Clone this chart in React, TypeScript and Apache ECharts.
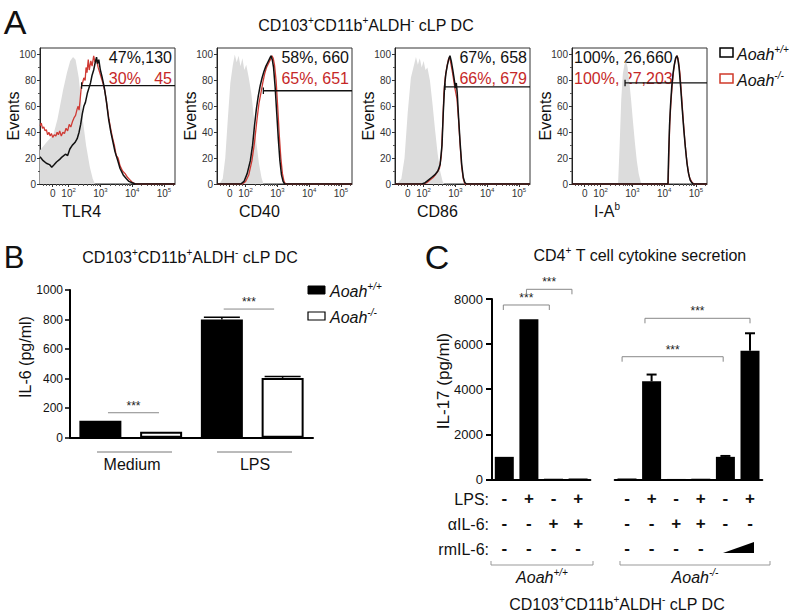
import React, { useEffect, useRef } from 'react';
import * as echarts from 'echarts';

const FONT = '"Liberation Sans", Arial, Helvetica, sans-serif';

// ---------- Panel A: flow histograms (x in display units: 1.5 = "0", 2 = 10^2 ... 5 = 10^5) ----------
const histNames = ['{m|TLR4}', '{m|CD40}', '{m|CD86}', '{m|I-A}{s|b}'];
const grayTLR4 = [[1.1, 26], [1.3, 32], [1.52, 38], [1.65, 50], [1.83, 73], [1.95, 86], [2.05, 95], [2.14, 98], [2.22, 96], [2.32, 82], [2.46, 47], [2.55, 30], [2.67, 13], [2.76, 4], [2.83, 0], [5.35, 0]];
const wtTLR4 = [[1.1, 21], [1.2, 18], [1.3, 16], [1.4, 15], [1.47, 13], [1.55, 15], [1.62, 17], [1.72, 19], [1.8, 21], [1.9, 23], [1.97, 22], [2.04, 27], [2.12, 30], [2.2, 32], [2.27, 35], [2.33, 40], [2.38, 46], [2.43, 54], [2.48, 60], [2.53, 63], [2.59, 70], [2.64, 74], [2.69, 78], [2.74, 84], [2.79, 88], [2.84, 94], [2.88, 98], [2.91, 93], [2.95, 96], [3.0, 88], [3.06, 82], [3.12, 75], [3.19, 64], [3.26, 50], [3.33, 40], [3.4, 32], [3.46, 25], [3.55, 18], [3.62, 12], [3.72, 7], [3.82, 4], [3.9, 2], [4.0, 1], [4.1, 0], [5.35, 0]];
const koTLR4 = [[1.1, 45], [1.14, 47], [1.18, 43], [1.22, 44], [1.26, 41], [1.3, 42], [1.34, 38], [1.38, 40], [1.42, 37], [1.46, 39], [1.5, 36], [1.55, 38], [1.6, 37], [1.64, 40], [1.68, 38], [1.72, 41], [1.77, 37], [1.82, 40], [1.87, 39], [1.92, 43], [1.97, 41], [2.02, 46], [2.07, 44], [2.12, 48], [2.17, 51], [2.22, 53], [2.27, 58], [2.3, 60], [2.33, 57], [2.36, 64], [2.4, 75], [2.44, 78], [2.48, 82], [2.52, 80], [2.55, 90], [2.58, 86], [2.62, 96], [2.65, 88], [2.7, 95], [2.74, 91], [2.79, 99], [2.83, 94], [2.88, 96], [2.93, 90], [2.98, 86], [3.03, 82], [3.08, 78], [3.14, 72], [3.2, 62], [3.27, 50], [3.33, 42], [3.38, 36], [3.44, 30], [3.5, 22], [3.56, 20], [3.62, 14], [3.7, 10], [3.78, 8], [3.86, 5], [3.94, 3], [4.02, 1], [4.12, 0], [5.35, 0]];

const grayCD40 = [[1.1, 0], [1.2, 1], [1.28, 4], [1.36, 20], [1.44, 50], [1.52, 78], [1.6, 92], [1.66, 100], [1.72, 94], [1.78, 99], [1.84, 91], [1.9, 97], [1.96, 88], [2.02, 92], [2.1, 82], [2.18, 70], [2.26, 52], [2.34, 32], [2.42, 16], [2.5, 5], [2.56, 0], [5.35, 0]];
const wtCD40 = [[1.1, 0], [1.85, 0], [1.95, 2], [2.05, 8], [2.15, 18], [2.22, 30], [2.28, 45], [2.34, 58], [2.4, 68], [2.46, 76], [2.52, 82], [2.58, 87], [2.64, 91], [2.7, 94], [2.76, 97], [2.8, 99], [2.84, 96], [2.88, 90], [2.93, 75], [2.98, 55], [3.03, 35], [3.08, 18], [3.13, 7], [3.18, 2], [3.23, 0], [5.35, 0]];
const koCD40 = [[1.1, 0], [1.9, 0], [2.0, 2], [2.1, 7], [2.2, 18], [2.28, 32], [2.36, 50], [2.42, 62], [2.48, 70], [2.54, 78], [2.6, 85], [2.66, 90], [2.72, 93], [2.78, 96], [2.83, 99], [2.87, 97], [2.91, 92], [2.96, 80], [3.01, 60], [3.06, 38], [3.11, 20], [3.16, 8], [3.21, 2], [3.26, 0], [5.35, 0]];

const grayCD86 = [[1.1, 0], [1.2, 1], [1.3, 4], [1.4, 20], [1.5, 55], [1.6, 82], [1.7, 92], [1.76, 98], [1.82, 92], [1.88, 97], [1.94, 90], [2.0, 95], [2.06, 88], [2.12, 90], [2.2, 80], [2.28, 62], [2.36, 42], [2.44, 24], [2.52, 10], [2.6, 2], [2.65, 0], [5.35, 0]];
const wtCD86 = [[1.1, 0], [1.95, 0], [2.05, 1], [2.15, 3], [2.25, 5], [2.35, 7], [2.45, 10], [2.52, 15], [2.58, 30], [2.62, 55], [2.66, 75], [2.7, 85], [2.75, 92], [2.8, 97], [2.83, 99], [2.87, 95], [2.92, 88], [2.97, 80], [3.0, 74], [3.03, 78], [3.06, 70], [3.1, 52], [3.15, 32], [3.2, 15], [3.25, 5], [3.3, 1], [3.35, 0], [5.35, 0]];
const koCD86 = [[1.1, 0], [2.0, 0], [2.1, 1], [2.2, 3], [2.3, 5], [2.4, 8], [2.5, 12], [2.56, 22], [2.6, 45], [2.64, 70], [2.68, 82], [2.73, 90], [2.78, 96], [2.82, 98], [2.86, 93], [2.91, 86], [2.96, 78], [3.0, 72], [3.05, 66], [3.1, 50], [3.15, 30], [3.2, 13], [3.25, 4], [3.3, 0], [5.35, 0]];

const grayIAb = [[1.1, 0], [2.55, 0], [2.6, 30], [2.65, 65], [2.7, 85], [2.75, 92], [2.8, 95], [2.85, 90], [2.9, 80], [2.96, 65], [3.02, 48], [3.08, 32], [3.14, 18], [3.2, 8], [3.26, 2], [3.3, 0], [5.35, 0]];
const wtIAb = [[1.1, 0], [4.12, 0], [4.14, 20], [4.17, 45], [4.2, 60], [4.24, 75], [4.28, 85], [4.32, 92], [4.36, 97], [4.4, 99], [4.43, 97], [4.47, 90], [4.52, 75], [4.57, 58], [4.62, 42], [4.67, 28], [4.72, 16], [4.77, 8], [4.82, 3], [4.87, 1], [4.92, 0], [5.35, 0]];
const koIAb = [[1.1, 0], [4.13, 0], [4.15, 25], [4.18, 48], [4.22, 65], [4.26, 78], [4.3, 88], [4.34, 94], [4.38, 98], [4.41, 99], [4.45, 95], [4.5, 85], [4.55, 68], [4.6, 50], [4.65, 34], [4.7, 21], [4.75, 11], [4.8, 5], [4.86, 2], [4.93, 0], [5.35, 0]];

const grayCurves = [grayTLR4, grayCD40, grayCD86, grayIAb];
const wtCurves = [wtTLR4, wtCD40, wtCD86, wtIAb];
const koCurves = [koTLR4, koCD40, koCD86, koIAb];
const gateStart = [2.41, 2.56, 2.67, 2.77];
const gateLevel = [76, 72, 75, 78];
const statWT = ['47%,130', '58%, 660', '67%, 658', '100%, 26,660'];
const statKO = ['30%   45', '65%, 651', '66%, 679', '100%, 27,203'];
const histXTicks = [1.5, 2, 3, 4, 5];
const histXLabels = ['{m|0}', '{m|10}{s|2}', '{m|10}{s|3}', '{m|10}{s|4}', '{m|10}{s|5}'];
const histXMinor = [1.2, 1.3, 1.4, 1.6, 1.7, 1.8, 1.9, 2.301, 2.477, 2.602, 2.699, 2.778, 2.845, 2.903, 2.954, 3.301, 3.477, 3.602, 3.699, 3.778, 3.845, 3.903, 3.954, 4.301, 4.477, 4.602, 4.699, 4.778, 4.845, 4.903, 4.954, 5.301];
const histYTicks = [0, 20, 40, 60, 80, 100];

// ---------- Panel B: IL-6 ----------
const bCategories = ['Medium WT', 'Medium KO', 'LPS WT', 'LPS KO'];
const bWT = [115, '-', 800, '-'];
const bKO = ['-', 40, '-', 405];
const bErr = [[2, 800, 815], [3, 405, 415]];
const bGroups = ['Medium', 'LPS'];
const bSig = [[0, 169, 0.125, 0.965, 0], [0, 871, 2.03, 2.86, 0]];

// ---------- Panel C: IL-17 ----------
const cLeftCats = ['1', '2', '3', '4'];
const cRightCats = ['1', '2', '3', '4', '5', '6'];
const cLeftVals = [1000, 7100, 30, 40];
const cRightVals = [40, 4350, 20, 30, 1000, 5700];
const cRightErr = [[1, 4350, 4650], [4, 1000, 1040], [5, 5700, 6480]];
const lpsLeft = ['-', '+', '-', '+'];
const il6Left = ['-', '-', '+', '+'];
const rmLeft = ['-', '-', '-', '-'];
const lpsRight = ['-', '+', '-', '+', '-', '+'];
const il6Right = ['-', '-', '+', '+', '-', '-'];
const rmRight = ['-', '-', '-', '-', '', ''];
const cSigLeft = [[0, 7734, -0.04, 1.83, 5], [0, 8430, 0.9, 2.75, 5]];
const cSigRight = [[0, 5441, -0.2, 3.91, 5], [0, 7144, 0.73, 5.0, 5]];

const supRich = (size: number, color: string, italic = false) => ({
  m: { fontSize: size, lineHeight: Math.round(size * 1.1), verticalAlign: 'bottom', color, fontFamily: FONT, fontStyle: italic ? 'italic' : 'normal' },
  s: { fontSize: Math.round(size * 0.62), lineHeight: Math.round(size * 0.62), verticalAlign: 'top', color, fontFamily: FONT, fontStyle: italic ? 'italic' : 'normal' },
});

const txt = (x: number, y: number, text: string, size: number, opts: any = {}) => ({
  type: 'text',
  x, y,
  rotation: opts.rotation || 0,
  silent: true,
  style: {
    text,
    fontSize: size,
    fontFamily: FONT,
    fontStyle: opts.italic ? 'italic' : 'normal',
    fontWeight: opts.bold ? 'bold' : 'normal',
    fill: opts.color || '#111',
    align: opts.align || 'center',
    verticalAlign: 'middle',
    textAlign: opts.align || 'center',
    textVerticalAlign: 'middle',
    rich: opts.rich,
  },
});

const sigRender = (color: string) => (params: any, api: any) => {
  const y = api.value(1);
  const f0 = api.value(2);
  const f1 = api.value(3);
  const drop = api.value(4);
  const base = api.coord([0, y]);
  const band = api.size([1, 0])[0];
  const x0 = base[0] + f0 * band;
  const x1 = base[0] + f1 * band;
  const yy = base[1];
  return {
    type: 'group',
    children: [
      { type: 'polyline', shape: { points: [[x0, yy + drop], [x0, yy], [x1, yy], [x1, yy + drop]] }, style: { stroke: color, lineWidth: 1, fill: 'none' } },
      { type: 'text', x: (x0 + x1) / 2, y: yy - 1, style: { text: '***', fontSize: 12, fontFamily: FONT, fill: '#222', align: 'center', verticalAlign: 'bottom', textAlign: 'center', textVerticalAlign: 'bottom' } },
    ],
  };
};

const errRender = (cap: number, w: number) => (params: any, api: any) => {
  const x = api.value(0);
  const p0 = api.coord([x, api.value(1)]);
  const p1 = api.coord([x, api.value(2)]);
  return {
    type: 'group',
    children: [
      { type: 'line', shape: { x1: p0[0], y1: p0[1], x2: p1[0], y2: p1[1] }, style: { stroke: '#000', lineWidth: w } },
      { type: 'line', shape: { x1: p1[0] - cap / 2, y1: p1[1], x2: p1[0] + cap / 2, y2: p1[1] }, style: { stroke: '#000', lineWidth: w } },
    ],
  };
};

const plainNum = (v: number) => String(v);

function buildOption() {
  const grids: any[] = [];
  const xAxes: any[] = [];
  const yAxes: any[] = [];
  const series: any[] = [];
  const graphic: any[] = [];
  const histLeft = [40, 217, 395, 572];

  histLeft.forEach((left, i) => {
    grids.push({ left, top: 48, width: 135, height: 136, show: true, borderColor: '#333', borderWidth: 1, backgroundColor: 'transparent' });
    const xi = xAxes.length;
    xAxes.push({
      type: 'value', gridIndex: i, min: 1.1, max: 5.35,
      axisLine: { show: true, onZero: false, lineStyle: { color: '#222', width: 1 } },
      splitLine: { show: false },
      axisTick: { show: true, customValues: histXTicks, length: 3, lineStyle: { color: '#333' } },
      axisLabel: {
        customValues: histXTicks, margin: 3, color: '#333', fontSize: 10,
        formatter: (v: number) => histXLabels[histXTicks.indexOf(v)] ?? '',
        rich: supRich(10, '#333'),
      },
    });
    xAxes.push({
      type: 'value', gridIndex: i, min: 1.1, max: 5.35, position: 'bottom',
      axisLine: { show: false }, splitLine: { show: false }, axisLabel: { show: false },
      axisTick: { show: true, customValues: histXMinor, length: 2, lineStyle: { color: '#555' } },
    });
    const yi = yAxes.length;
    yAxes.push({
      type: 'value', gridIndex: i, min: 0, max: 105, interval: 20,
      axisLine: { show: true, lineStyle: { color: '#222', width: 1 } },
      splitLine: { show: false },
      axisTick: { show: true, customValues: histYTicks, length: 3, lineStyle: { color: '#333' } },
      minorTick: { show: true, splitNumber: 2, length: 2, lineStyle: { color: '#555' } },
      axisLabel: { customValues: histYTicks, fontSize: 10, color: '#333', margin: 4, fontFamily: FONT, formatter: plainNum },
    });
    series.push({ type: 'line', xAxisIndex: xi, yAxisIndex: yi, data: grayCurves[i], showSymbol: false, lineStyle: { width: 0, color: '#dcdcdc' }, itemStyle: { color: '#dcdcdc' }, areaStyle: { color: '#dcdcdc', opacity: 1 }, silent: true, z: 1 });
    series.push({ type: 'line', xAxisIndex: xi, yAxisIndex: yi, data: koCurves[i], showSymbol: false, lineStyle: { width: 1.3, color: '#cf3a34' }, itemStyle: { color: '#cf3a34' }, silent: true, z: 2 });
    series.push({ type: 'line', xAxisIndex: xi, yAxisIndex: yi, data: wtCurves[i], showSymbol: false, lineStyle: { width: 1.5, color: '#111' }, itemStyle: { color: '#111' }, silent: true, z: 3 });
    series.push({ type: 'line', xAxisIndex: xi, yAxisIndex: yi, data: [[gateStart[i], gateLevel[i] + 2.5], [gateStart[i], gateLevel[i] - 2.5], [gateStart[i], gateLevel[i]], [5.35, gateLevel[i]]], showSymbol: false, lineStyle: { width: 1.3, color: '#111' }, itemStyle: { color: '#111' }, silent: true, z: 4 });

    graphic.push(txt(left - 27, 116, 'Events', 16, { rotation: Math.PI / 2 }));
    graphic.push(txt(left + 22, 210, histNames[i], 16, { align: 'left', rich: supRich(16, '#111') }));
    if (i < 3) {
      graphic.push(txt(left + 132, 57, statWT[i], 16, { align: 'right' }));
      graphic.push(txt(left + 132, 78, statKO[i], 16, { align: 'right', color: '#c62828' }));
    } else {
      graphic.push(txt(left + 2, 57, statWT[i], 16, { align: 'left' }));
      graphic.push(txt(left + 2, 78, statKO[i], 16, { align: 'left', color: '#c62828' }));
    }
  });

  // ---- Panel B ----
  const gB = grids.length;
  grids.push({ left: 70, top: 290, width: 243, height: 147.7 });
  const xB = xAxes.length;
  xAxes.push({
    type: 'category', gridIndex: gB, data: bCategories,
    axisLine: { lineStyle: { color: '#000', width: 2 } },
    axisTick: { alignWithLabel: true, length: 6, lineStyle: { color: '#000', width: 2 } },
    axisLabel: { show: false },
  });
  const yB = yAxes.length;
  yAxes.push({
    type: 'value', gridIndex: gB, min: 0, max: 1000, interval: 200,
    axisLine: { show: true, lineStyle: { color: '#000', width: 2 } },
    axisTick: { show: true, length: 5, lineStyle: { color: '#000', width: 1.5 } },
    splitLine: { show: false },
    axisLabel: { fontSize: 12, color: '#111', margin: 7, fontFamily: FONT, formatter: plainNum },
  });
  series.push({ type: 'bar', name: 'Aoah+/+', xAxisIndex: xB, yAxisIndex: yB, data: bWT, barWidth: 42, barGap: '-100%', itemStyle: { color: '#000' }, silent: true });
  series.push({ type: 'bar', name: 'Aoah-/-', xAxisIndex: xB, yAxisIndex: yB, data: bKO, barWidth: 42, barGap: '-100%', itemStyle: { color: '#fff', borderColor: '#000', borderWidth: 2 }, silent: true });
  series.push({ type: 'custom', xAxisIndex: xB, yAxisIndex: yB, data: bErr, encode: { x: 0, y: [1, 2] }, renderItem: errRender(36, 1.5), silent: true, z: 5 });
  series.push({ type: 'custom', xAxisIndex: xB, yAxisIndex: yB, data: bSig, encode: { x: 0, y: 1 }, renderItem: sigRender('#888'), silent: true, clip: false, z: 5 });

  // ---- Panel C ----
  const gCL = grids.length;
  grids.push({ left: 492, top: 299, width: 98.4, height: 180.4 });
  const gCR = grids.length;
  grids.push({ left: 614.7, top: 299, width: 147.6, height: 180.4 });
  const catLabel = (lps: string[], il6: string[], rm: string[]) => ({
    interval: 0, margin: 7, fontSize: 17, fontWeight: 'bold', lineHeight: 25, color: '#111', fontFamily: FONT,
    formatter: (_v: string, idx: number) => `${lps[idx]}\n${il6[idx]}\n${rm[idx] || ' '}`,
  });
  const xCL = xAxes.length;
  xAxes.push({
    type: 'category', gridIndex: gCL, data: cLeftCats,
    axisLine: { lineStyle: { color: '#000', width: 2 } },
    axisTick: { alignWithLabel: true, length: 6, lineStyle: { color: '#000', width: 2 } },
    axisLabel: catLabel(lpsLeft, il6Left, rmLeft),
  });
  const xCR = xAxes.length;
  xAxes.push({
    type: 'category', gridIndex: gCR, data: cRightCats,
    axisLine: { lineStyle: { color: '#000', width: 2 } },
    axisTick: { alignWithLabel: true, length: 6, lineStyle: { color: '#000', width: 2 } },
    axisLabel: catLabel(lpsRight, il6Right, rmRight),
  });
  const yCL = yAxes.length;
  yAxes.push({
    type: 'value', gridIndex: gCL, min: 0, max: 8000, interval: 2000,
    axisLine: { show: true, lineStyle: { color: '#000', width: 2 } },
    axisTick: { show: true, length: 6, lineStyle: { color: '#000', width: 2 } },
    splitLine: { show: false },
    axisLabel: { fontSize: 13, color: '#111', margin: 9, fontFamily: FONT, formatter: plainNum },
  });
  const yCR = yAxes.length;
  yAxes.push({ type: 'value', gridIndex: gCR, min: 0, max: 8000, interval: 2000, show: false, splitLine: { show: false } });
  series.push({ type: 'bar', xAxisIndex: xCL, yAxisIndex: yCL, data: cLeftVals, barWidth: 19, itemStyle: { color: '#000' }, silent: true });
  series.push({ type: 'bar', xAxisIndex: xCR, yAxisIndex: yCR, data: cRightVals, barWidth: 19, itemStyle: { color: '#000' }, silent: true });
  series.push({ type: 'custom', xAxisIndex: xCR, yAxisIndex: yCR, data: cRightErr, encode: { x: 0, y: [1, 2] }, renderItem: errRender(10, 2), silent: true, z: 5 });
  series.push({ type: 'custom', xAxisIndex: xCL, yAxisIndex: yCL, data: cSigLeft, encode: { x: 0, y: 1 }, renderItem: sigRender('#888'), silent: true, clip: false, z: 5 });
  series.push({ type: 'custom', xAxisIndex: xCR, yAxisIndex: yCR, data: cSigRight, encode: { x: 0, y: 1 }, renderItem: sigRender('#888'), silent: true, clip: false, z: 5 });

  // ---- texts & decorations ----
  const title = '{m|CD103}{s|+}{m|CD11b}{s|+}{m|ALDH}{s|-}{m| cLP DC}';
  const aoahWT = '{m|Aoah}{s|+/+}';
  const aoahKO = '{m|Aoah}{s|-/-}';
  graphic.push(txt(15, 22, 'A', 34));
  graphic.push(txt(366, 24, title, 16, { rich: supRich(16, '#111') }));
  graphic.push({ type: 'rect', shape: { x: 720, y: 48, width: 13, height: 9 }, style: { fill: '#fff', stroke: '#000', lineWidth: 1.5 } });
  graphic.push(txt(737, 53, aoahWT, 16, { align: 'left', rich: supRich(16, '#111', true) }));
  graphic.push({ type: 'rect', shape: { x: 720, y: 74, width: 13, height: 9 }, style: { fill: '#fff', stroke: '#d03a2a', lineWidth: 1.5 } });
  graphic.push(txt(737, 79, aoahKO, 16, { align: 'left', rich: supRich(16, '#111', true) }));

  graphic.push(txt(14, 257, 'B', 31));
  graphic.push(txt(190, 256, title, 16, { rich: supRich(16, '#111') }));
  graphic.push(txt(25, 357, 'IL-6 (pg/ml)', 16, { rotation: Math.PI / 2 }));
  graphic.push({ type: 'rect', shape: { x: 308, y: 286, width: 17, height: 8 }, style: { fill: '#000', stroke: '#000', lineWidth: 1 } });
  graphic.push(txt(330, 290, aoahWT, 16, { align: 'left', rich: supRich(16, '#111', true) }));
  graphic.push({ type: 'rect', shape: { x: 308, y: 312, width: 17, height: 8 }, style: { fill: '#fff', stroke: '#000', lineWidth: 1.2 } });
  graphic.push(txt(330, 316, aoahKO, 16, { align: 'left', rich: supRich(16, '#111', true) }));
  graphic.push({ type: 'line', shape: { x1: 97, y1: 452, x2: 172, y2: 452 }, style: { stroke: '#777', lineWidth: 1 } });
  graphic.push({ type: 'line', shape: { x1: 217, y1: 452, x2: 292, y2: 452 }, style: { stroke: '#777', lineWidth: 1 } });
  graphic.push(txt(132, 464, bGroups[0], 16));
  graphic.push(txt(255, 464, bGroups[1], 16));

  graphic.push(txt(437, 257, 'C', 34));
  graphic.push(txt(640, 254, '{m|CD4}{s|+}{m| T cell cytokine secretion}', 16, { rich: supRich(16, '#111') }));
  graphic.push(txt(443, 381, 'IL-17 (pg/ml)', 17, { rotation: Math.PI / 2 }));
  graphic.push(txt(489, 499, 'LPS:', 16, { align: 'right' }));
  graphic.push(txt(489, 524, 'αIL-6:', 16, { align: 'right' }));
  graphic.push(txt(489, 549, 'rmIL-6:', 16, { align: 'right' }));
  graphic.push({ type: 'polygon', shape: { points: [[723, 553], [754, 553], [754, 542]] }, style: { fill: '#000' } });
  graphic.push({ type: 'polyline', shape: { points: [[491, 561], [491, 565], [593, 565], [593, 561]] }, style: { stroke: '#999', lineWidth: 1, fill: 'none' } });
  graphic.push({ type: 'polyline', shape: { points: [[620, 561], [620, 565], [770, 565], [770, 561]] }, style: { stroke: '#999', lineWidth: 1, fill: 'none' } });
  graphic.push(txt(542, 576, aoahWT, 16, { rich: supRich(16, '#111', true) }));
  graphic.push(txt(695, 576, aoahKO, 16, { rich: supRich(16, '#111', true) }));
  graphic.push(txt(617, 603, title, 16, { rich: supRich(16, '#111') }));

  return {
    animation: false,
    backgroundColor: '#fff',
    textStyle: { fontFamily: FONT },
    grid: grids,
    xAxis: xAxes,
    yAxis: yAxes,
    series,
    graphic: { elements: graphic },
  };
}

export default function App() {
  const ref = useRef<HTMLDivElement>(null);
  useEffect(() => {
    if (!ref.current) return;
    const chart = echarts.init(ref.current, undefined, { renderer: 'svg' });
    chart.setOption(buildOption() as any);
    return () => chart.dispose();
  }, []);
  return <div ref={ref} style={{ position: 'absolute', left: 0, top: 0, width: 793, height: 614, background: '#fff' }} />;
}
